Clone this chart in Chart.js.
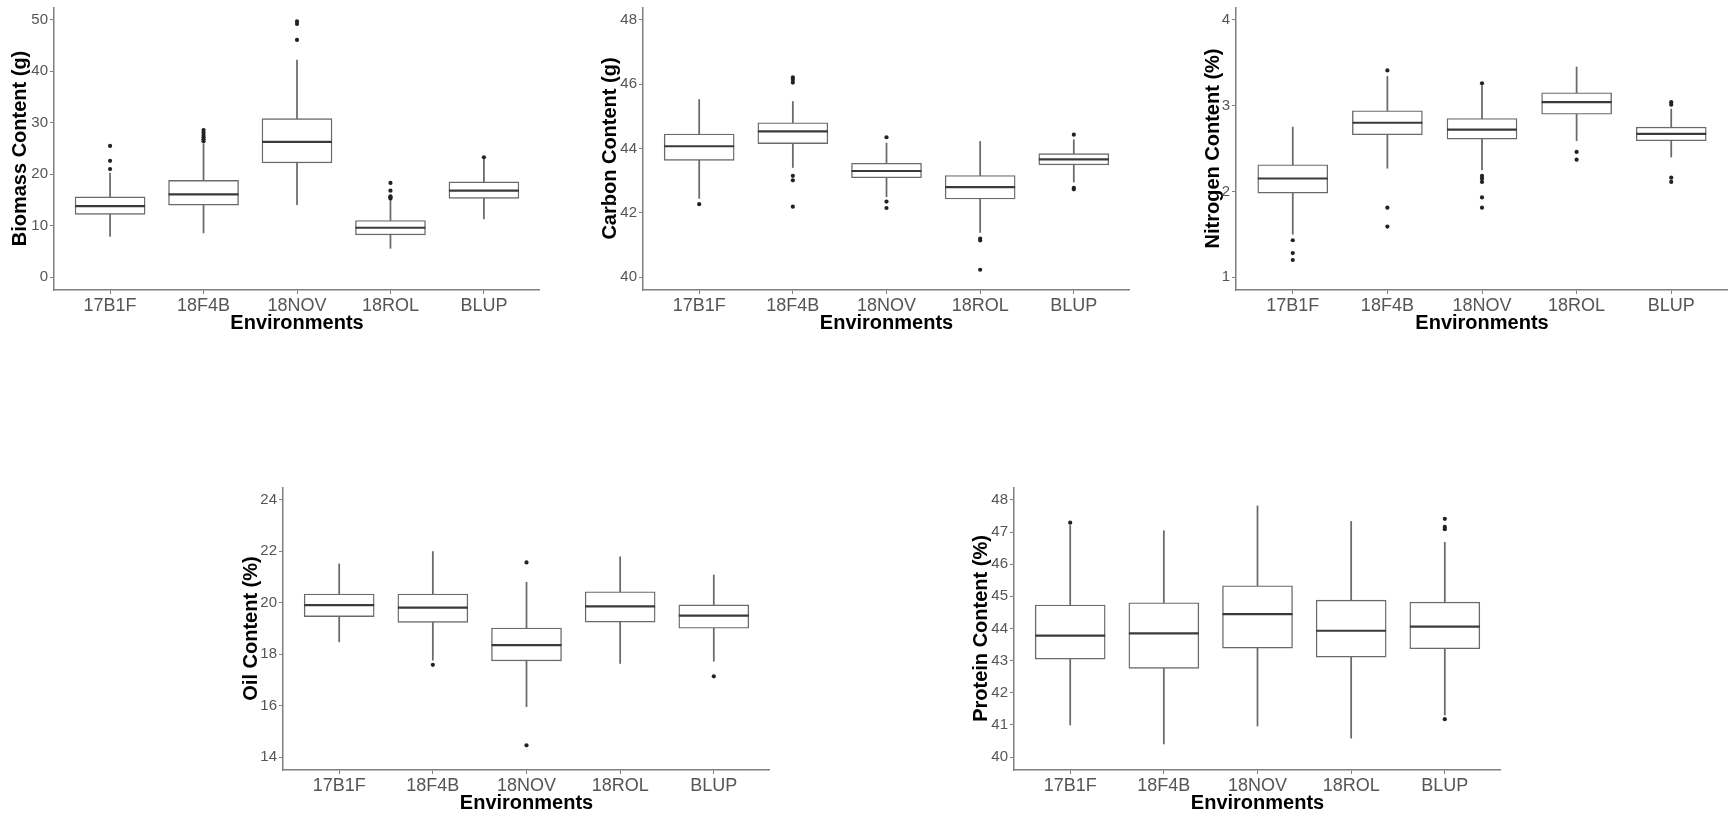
<!DOCTYPE html>
<html>
<head>
<meta charset="utf-8">
<script src="https://cdn.jsdelivr.net/npm/chart.js@4"></script>
<style>
  html, body { margin: 0; padding: 0; background: #ffffff; overflow: hidden; }
  body { width: 1728px; height: 817px; position: relative; }
  canvas { position: absolute; }
</style>
</head>
<body>
<script>
// ---------------- DATA ----------------
const categories = ['17B1F', '18F4B', '18NOV', '18ROL', 'BLUP'];

// Biomass Content (g)
const biomassLow    = [7.9, 8.6, 14.1, 5.6, 11.3];
const biomassQ1     = [12.2, 14.0, 22.2, 8.2, 15.3];
const biomassMedian = [13.8, 16.1, 26.3, 9.6, 16.8];
const biomassQ3     = [15.6, 18.8, 30.8, 11.0, 18.5];
const biomassHigh   = [20.2, 25.9, 42.2, 15.0, 23.0];
const biomassOutliers = [[21.0, 22.6, 25.5], [26.4, 26.8, 27.2, 27.6, 28.1, 28.6], [46.1, 49.2, 49.7], [15.3, 15.5, 15.7, 16.8, 18.3], [23.3]];
const biomassTicks  = [0, 10, 20, 30, 40, 50];

// Carbon Content (g)
const carbonLow    = [42.45, 43.41, 42.50, 41.39, 42.96];
const carbonQ1     = [43.63, 44.15, 43.09, 42.43, 43.49];
const carbonMedian = [44.07, 44.53, 43.30, 42.80, 43.66];
const carbonQ3     = [44.45, 44.80, 43.54, 43.16, 43.84];
const carbonHigh   = [45.52, 45.46, 44.17, 44.22, 44.27];
const carbonOutliers = [[42.27], [46.21, 46.14, 46.05, 43.15, 43.01, 42.19], [44.35, 42.35, 42.15], [41.20, 41.14, 40.23], [44.43, 42.78, 42.73]];
const carbonTicks  = [40, 42, 44, 46, 48];

// Nitrogen Content (%)
const nitrogenLow    = [1.50, 2.27, 2.25, 2.59, 2.40];
const nitrogenQ1     = [1.98, 2.66, 2.61, 2.90, 2.59];
const nitrogenMedian = [2.15, 2.80, 2.72, 3.04, 2.67];
const nitrogenQ3     = [2.31, 2.94, 2.85, 3.15, 2.75];
const nitrogenHigh   = [2.75, 3.34, 3.23, 3.45, 2.96];
const nitrogenOutliers = [[1.43, 1.28, 1.20], [3.41, 1.81, 1.59], [3.26, 2.18, 2.15, 2.11, 1.93, 1.81], [2.46, 2.37], [3.04, 3.01, 2.16, 2.11]];
const nitrogenTicks  = [1, 2, 3, 4];

// Oil Content (%)
const oilLow    = [18.48, 17.77, 15.96, 17.64, 17.73];
const oilQ1     = [19.46, 19.24, 17.74, 19.25, 19.01];
const oilMedian = [19.91, 19.81, 18.35, 19.86, 19.50];
const oilQ3     = [20.34, 20.34, 19.02, 20.43, 19.92];
const oilHigh   = [21.51, 21.99, 20.80, 21.79, 21.08];
const oilOutliers = [[], [17.59], [21.57, 14.46], [], [17.14]];
const oilTicks  = [14, 16, 18, 20, 22, 24];

// Protein Content (%)
const proteinLow    = [41.00, 40.41, 40.97, 40.59, 41.31];
const proteinQ1     = [43.05, 42.76, 43.39, 43.11, 43.37];
const proteinMedian = [43.78, 43.85, 44.45, 43.93, 44.06];
const proteinQ3     = [44.73, 44.80, 45.33, 44.88, 44.82];
const proteinHigh   = [47.20, 47.04, 47.81, 47.33, 46.68];
const proteinOutliers = [[47.29], [], [], [], [47.41, 47.16, 47.09, 41.18]];
const proteinTicks  = [40, 41, 42, 43, 44, 45, 46, 47, 48];

// ---------------- DRAWING ----------------
const FONT = "Arial, 'Liberation Sans', Helvetica, sans-serif";
const AXIS_GREY = '#7f7f7f';
const TICK_TEXT = '#555555';

function makePanel(p) {
  const yAxisW = p.titleDist + 12;
  const xAxisH = 45;
  const left = p.axisX - yAxisW;
  const width = p.plotRight - left;
  const height = (p.plotBottom - p.plotTop) + xAxisH;
  const cv = document.createElement('canvas');
  cv.width = width; cv.height = height;
  cv.style.left = left + 'px';
  cv.style.top = p.plotTop + 'px';
  cv.style.width = width + 'px';
  cv.style.height = height + 'px';
  document.body.appendChild(cv);

  const pos = categories.map((c, i) => i + 1);
  const outlierPts = [];
  p.outliers.forEach((arr, i) => arr.forEach(v => outlierPts.push({ x: pos[i], y: v })));

  new Chart(cv.getContext('2d'), {
    type: 'bar',
    data: {
      datasets: [
        {
          type: 'bar', label: 'whisker',
          data: pos.map((x, i) => ({ x: x, y: [p.low[i], p.high[i]] })),
          backgroundColor: '#6a6a6a', borderWidth: 0,
          barThickness: 1.1, grouped: false, order: 4
        },
        {
          type: 'bar', label: 'box',
          data: pos.map((x, i) => ({ x: x, y: [p.q1[i], p.q3[i]] })),
          backgroundColor: '#ffffff', borderColor: '#6a6a6a', borderWidth: 1.4,
          borderSkipped: false, barThickness: 70, grouped: false, order: 3
        },
        {
          type: 'line', label: 'median',
          data: pos.map((x, i) => ({ x: x, y: p.median[i] })),
          showLine: false, pointStyle: 'line', pointRadius: 35, pointHoverRadius: 35,
          pointBorderColor: '#3a3a3a', pointBorderWidth: 2.2, order: 2
        },
        {
          type: 'line', label: 'outliers',
          data: outlierPts,
          showLine: false, pointStyle: 'circle', pointRadius: 2.1, pointHoverRadius: 2.1,
          pointBackgroundColor: '#222222', pointBorderColor: '#222222', pointBorderWidth: 0, order: 1
        }
      ]
    },
    options: {
      responsive: false,
      animation: false,
      devicePixelRatio: 1,
      layout: { padding: 0, autoPadding: false },
      plugins: { legend: { display: false }, tooltip: { enabled: false } },
      scales: {
        x: {
          type: 'linear', min: 0.4, max: 5.6, offset: false,
          afterBuildTicks: ax => { ax.ticks = pos.map(v => ({ value: v })); },
          ticks: {
            callback: (v, idx) => categories[idx],
            font: { size: 18, family: FONT }, color: TICK_TEXT, padding: 1,
            maxRotation: 0, autoSkip: false
          },
          grid: { display: true, offset: false, drawOnChartArea: false, drawTicks: true, tickLength: 4, color: AXIS_GREY, lineWidth: 1 },
          border: { display: true, color: AXIS_GREY, width: 1.5 },
          title: { display: true, text: 'Environments', color: '#000000', padding: 0,
                   font: { size: 20, weight: 'bold', family: FONT } },
          afterFit: s => { s.height = xAxisH; s.paddingLeft = 0; s.paddingRight = 0; }
        },
        y: {
          type: 'linear', min: p.range[0], max: p.range[1],
          afterBuildTicks: ax => { ax.ticks = p.ticks.map(v => ({ value: v })); },
          ticks: { font: { size: 15, family: FONT }, color: TICK_TEXT, padding: 2 },
          grid: { display: true, offset: false, drawOnChartArea: false, drawTicks: true, tickLength: 4, color: AXIS_GREY, lineWidth: 1 },
          border: { display: true, color: AXIS_GREY, width: 1.5 },
          title: { display: true, text: p.title, color: '#000000', padding: 0,
                   font: { size: 20, weight: 'bold', family: FONT } },
          afterFit: s => { s.width = yAxisW; s.paddingTop = 0; s.paddingBottom = 0; }
        }
      }
    }
  });
}

makePanel({ title: 'Biomass Content (g)', axisX: 54, plotRight: 540, plotTop: 7, plotBottom: 290, titleDist: 34,
  range: [-2.5, 52.5], ticks: biomassTicks,
  low: biomassLow, q1: biomassQ1, median: biomassMedian, q3: biomassQ3, high: biomassHigh, outliers: biomassOutliers });

makePanel({ title: 'Carbon Content (g)', axisX: 643, plotRight: 1130, plotTop: 7, plotBottom: 290, titleDist: 33,
  range: [39.6, 48.4], ticks: carbonTicks,
  low: carbonLow, q1: carbonQ1, median: carbonMedian, q3: carbonQ3, high: carbonHigh, outliers: carbonOutliers });

makePanel({ title: 'Nitrogen Content (%)', axisX: 1236, plotRight: 1728, plotTop: 7, plotBottom: 290, titleDist: 23,
  range: [0.85, 4.15], ticks: nitrogenTicks,
  low: nitrogenLow, q1: nitrogenQ1, median: nitrogenMedian, q3: nitrogenQ3, high: nitrogenHigh, outliers: nitrogenOutliers });

makePanel({ title: 'Oil Content (%)', axisX: 283, plotRight: 770, plotTop: 487, plotBottom: 770, titleDist: 32,
  range: [13.5, 24.5], ticks: oilTicks,
  low: oilLow, q1: oilQ1, median: oilMedian, q3: oilQ3, high: oilHigh, outliers: oilOutliers });

makePanel({ title: 'Protein Content (%)', axisX: 1014, plotRight: 1501, plotTop: 487, plotBottom: 770, titleDist: 33,
  range: [39.6, 48.4], ticks: proteinTicks,
  low: proteinLow, q1: proteinQ1, median: proteinMedian, q3: proteinQ3, high: proteinHigh, outliers: proteinOutliers });
</script>
</body>
</html>
